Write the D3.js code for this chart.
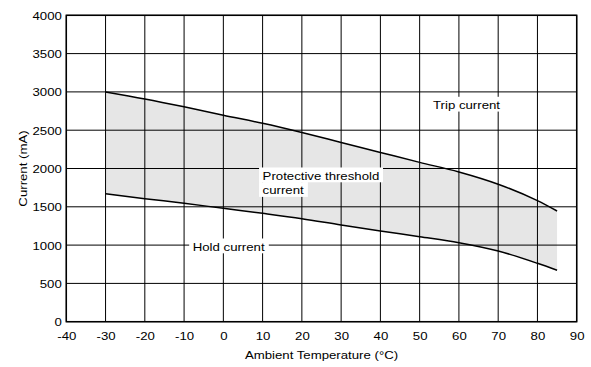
<!DOCTYPE html>
<html><head><meta charset="utf-8">
<script src="https://cdn.jsdelivr.net/npm/d3@7"></script>
<style>
html,body{margin:0;padding:0;background:#fff;}
svg{display:block;}
text{font-family:"Liberation Sans",Arial,Helvetica,sans-serif;font-size:11.2px;fill:#000;}
</style></head><body>
<svg id="c" width="591" height="367"></svg>
<script>
const temps = [-30,-20,-10,0,10,20,30,40,50,60,70,80,85];
const tripCurrent = [3000,2908,2805,2695,2590,2470,2340,2210,2080,1955,1795,1580,1445];
const holdCurrent = [1671,1606,1546,1480,1415,1345,1262,1184,1110,1032,923,762,672];
const xTicks = [-40,-30,-20,-10,0,10,20,30,40,50,60,70,80,90];
const yTicks = [0,500,1000,1500,2000,2500,3000,3500,4000];
const xTitle = "Ambient Temperature (°C)";
const yTitle = "Current (mA)";
const labels = [
  {lines:["Trip current"], t:53.4, v:2777},
  {lines:["Protective threshold","current"], t:10.0, v:1854},
  {lines:["Hold current"], t:-7.8, v:927}
];

const SX = 1.18;
const svg = d3.select("#c");
const x = d3.scaleLinear().domain([-40,90]).range([66.3,576.7]);
const y = d3.scaleLinear().domain([0,4000]).range([321.7,15.3]);
const data = temps.map((t,i)=>({t, trip:tripCurrent[i], hold:holdCurrent[i]}));
const curve = d3.curveMonotoneX;
const fmt = d => String(d);

// shaded band
svg.append("path").datum(data)
  .attr("d", d3.area().curve(curve).x(d=>x(d.t)).y0(d=>y(d.hold)).y1(d=>y(d.trip)))
  .attr("fill","#e6e6e6");

// grid
const g = svg.append("g");
g.selectAll(".vg").data(xTicks).join("line")
  .attr("x1",d=>x(d)).attr("x2",d=>x(d)).attr("y1",y(0)).attr("y2",y(4000))
  .attr("stroke","#000").attr("stroke-width",1);
g.selectAll(".hg").data(yTicks).join("line")
  .attr("y1",d=>y(d)).attr("y2",d=>y(d)).attr("x1",x(-40)).attr("x2",x(90))
  .attr("stroke","#000").attr("stroke-width",1);

// curves
const line = key => d3.line().curve(curve).x(d=>x(d.t)).y(d=>y(d[key]));
svg.append("path").datum(data).attr("d",line("trip")).attr("fill","none").attr("stroke","#000").attr("stroke-width",1.5);
svg.append("path").datum(data).attr("d",line("hold")).attr("fill","none").attr("stroke","#000").attr("stroke-width",1.5);

// frame
svg.append("rect").attr("x",x(-40)).attr("y",y(4000)).attr("width",x(90)-x(-40)).attr("height",y(0)-y(4000))
  .attr("fill","none").attr("stroke","#000").attr("stroke-width",1.5);

// axes
const ax = svg.append("g").attr("transform",`translate(0,${y(0)})`)
  .call(d3.axisBottom(x).tickValues(xTicks).tickSize(0).tickPadding(0).tickFormat(fmt));
ax.select(".domain").remove();
ax.selectAll("text").attr("y",18).attr("dy",null).attr("transform",`scale(${SX},1)`)
  .style("font-size","11.2px").style("font-family",'"Liberation Sans",Arial,sans-serif');

const ay = svg.append("g").attr("transform",`translate(${x(-40)},0)`)
  .call(d3.axisLeft(y).tickValues(yTicks).tickSize(0).tickPadding(0).tickFormat(fmt));
ay.select(".domain").remove();
ay.selectAll("text").attr("x",-4.5/SX).attr("dy","0.36em").attr("transform",`scale(${SX},1)`)
  .style("font-size","11.2px").style("font-family",'"Liberation Sans",Arial,sans-serif');

// titles
svg.append("g").attr("transform",`translate(${(x(-40)+x(90))/2},359) scale(${SX},1)`)
  .append("text").attr("text-anchor","middle").text(xTitle);
svg.append("g").attr("transform",`translate(26.5,${168.5}) rotate(-90) scale(${SX},1)`)
  .append("text").attr("text-anchor","middle").text(yTitle);

// labels with white backgrounds
labels.forEach(lb=>{
  const lg = svg.append("g").attr("transform",`translate(${x(lb.t)},${y(lb.v)})`);
  lb.lines.forEach((s,i)=>{
    const gg = lg.append("g").attr("transform",`translate(0,${i*14.6}) scale(${SX},1)`);
    const r = gg.append("rect").attr("fill","#fff");
    const t = gg.append("text").attr("x",0).attr("y",0).text(s);
    const bb = t.node().getBBox();
    r.attr("x",bb.x-3).attr("y",-12.2).attr("width",bb.width+6).attr("height",14.8);
  });
});
</script>
</body></html>
